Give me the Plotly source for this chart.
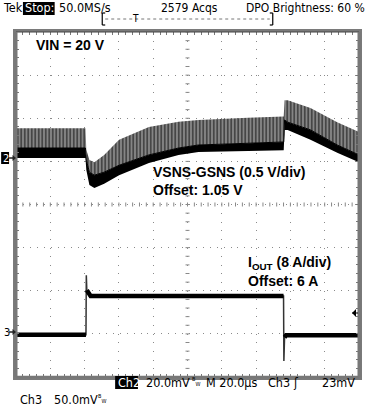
import plotly.graph_objects as go

# ---------------- data ----------------
# time in microseconds (20 us/div, 10 divisions), vertical in divisions (8 divisions)
ch2_t    = [0, 40.5, 41.0, 42.8, 45.7, 51.4, 60.1, 77.5, 94.8, 106.4, 135.3, 156.1, 156.6, 158.4, 171.7, 187.3, 200]
ch2_peak = [1.77, 1.77, 1.27, 1.03, 0.98, 1.15, 1.50, 1.80, 1.92, 1.96, 2.01, 2.04, 2.42, 2.42, 2.24, 1.91, 1.68]
ch2_top  = [1.31, 1.31, 1.03, 0.75, 0.68, 0.75, 0.91, 1.15, 1.31, 1.38, 1.42, 1.45, 1.96, 1.91, 1.73, 1.38, 1.15]
ch2_bot  = [1.08, 1.08, 0.80, 0.45, 0.38, 0.48, 0.68, 0.96, 1.15, 1.22, 1.24, 1.26, 1.73, 1.73, 1.50, 1.20, 0.98]

ch3_t = [0, 40.8, 41.0, 41.3, 42.0, 43.5, 156.0, 156.2, 156.6, 157.5, 200]
ch3_v = [-3.02, -3.02, -1.64, -1.99, -2.05, -2.12, -2.12, -3.63, -3.08, -3.03, -3.03]

x_range = [0, 200]
y_range = [-4, 4]
x_div = 20
y_div = 1

top_left = "Tek"
stop_text = "Stop:"
rate_text = "50.0MS/s"
acq_text = "2579 Acqs"
bright_text = "DPO Brightness: 60 %"
ch2_scale = "20.0mV"
time_scale = "M 20.0\u00b5s"
trig_src = "Ch3"
trig_level = "23mV"
ch3_scale = "50.0mV"

# ---------------- layout helpers ----------------
W, H = 371, 415
L, R, T, B = 16, 362, 32, 377


def px(x):
    return (x - L) / (R - L)


def py(y):
    return (B - y) / (B - T)


fig = go.Figure()

# Channel 2: noise core band and switching spikes
fig.add_trace(go.Scatter(x=ch2_t, y=ch2_bot, mode="lines", line=dict(width=0, color="black"),
                         hoverinfo="skip", showlegend=False))
fig.add_trace(go.Scatter(x=ch2_t, y=ch2_top, mode="lines", line=dict(width=1, color="black"),
                         fill="tonexty", fillcolor="black", hoverinfo="skip", showlegend=False))
fig.add_trace(go.Scatter(x=ch2_t, y=ch2_peak, mode="lines", line=dict(width=0, color="#444"),
                         fill="tonexty", fillcolor="#808080",
                         fillpattern=dict(shape="|", fgcolor="black", bgcolor="#8c8c8c",
                                          size=3.5, solidity=0.55),
                         hoverinfo="skip", showlegend=False))

# Channel 3: thin full trace, thick on the flat parts
fig.add_trace(go.Scatter(x=ch3_t, y=ch3_v, mode="lines", line=dict(width=1.5, color="#333"),
                         hoverinfo="skip", showlegend=False))
xt, yt = [], []
for i in range(len(ch3_t) - 1):
    dt = ch3_t[i + 1] - ch3_t[i]
    dv = abs(ch3_v[i + 1] - ch3_v[i])
    if dv / dt > 0.3:
        xt.append(None); yt.append(None)
        continue
    xt += [ch3_t[i], ch3_t[i + 1]]
    yt += [ch3_v[i], ch3_v[i + 1]]
fig.add_trace(go.Scatter(x=xt, y=yt, mode="lines", line=dict(width=4.5, color="black"),
                         hoverinfo="skip", showlegend=False))

shapes = []
# centre crosshair minor ticks
xpp = (R - L) / (x_range[1] - x_range[0])
ypp = (B - T) / (y_range[1] - y_range[0])
cx = (x_range[0] + x_range[1]) / 2
for k in range(-20, 21):
    yv = k * y_div / 5
    shapes.append(dict(type="line", x0=cx - 2 / xpp, x1=cx + 2 / xpp, y0=yv, y1=yv,
                       xref="x", yref="y", line=dict(color="#888", width=1), layer="below"))
for k in range(0, 51):
    xv = k * x_div / 5
    shapes.append(dict(type="line", x0=xv, x1=xv, y0=-2 / ypp, y1=2 / ypp,
                       xref="x", yref="y", line=dict(color="#888", width=1), layer="below"))

# graticule frame
shapes.append(dict(type="line", xref="paper", yref="paper", x0=0, x1=1, y0=1, y1=1,
                   line=dict(color="#444", width=1.2)))
shapes.append(dict(type="line", xref="paper", yref="paper", x0=0, x1=1, y0=0, y1=0,
                   line=dict(color="#777", width=2.5)))
shapes.append(dict(type="line", xref="paper", yref="paper", x0=0, x1=0, y0=0, y1=1,
                   line=dict(color="#777", width=3)))
shapes.append(dict(type="line", xref="paper", yref="paper", x0=1, x1=1, y0=0, y1=1,
                   line=dict(color="#777", width=3)))

# record bracket at top
for (a, b) in [(103, 106), (275, 272)]:
    shapes.append(dict(type="line", xref="paper", yref="paper", x0=px(a), x1=px(a), y0=py(13), y1=py(25),
                       line=dict(color="black", width=1.2)))
    for yy in (13, 25):
        shapes.append(dict(type="line", xref="paper", yref="paper", x0=px(a), x1=px(b), y0=py(yy), y1=py(yy),
                           line=dict(color="black", width=1.2)))
shapes.append(dict(type="line", xref="paper", yref="paper", x0=px(106), x1=px(272), y0=py(19), y1=py(19),
                   line=dict(color="#777", width=1, dash="dot")))

# channel 2 marker box
shapes.append(dict(type="rect", xref="paper", yref="paper", x0=px(1), x1=px(9), y0=py(152), y1=py(164),
                   fillcolor="black", line=dict(width=0)))
# channel ground arrows
for yy in (158, 332):
    shapes.append(dict(type="line", xref="paper", yref="paper", x0=px(9), x1=px(14), y0=py(yy), y1=py(yy),
                       line=dict(color="#222", width=1.5)))
    shapes.append(dict(type="path", xref="paper", yref="paper",
                       path=f"M {px(16)},{py(yy)} L {px(12.5)},{py(yy - 3)} L {px(12.5)},{py(yy + 3)} Z",
                       fillcolor="#222", line=dict(width=0)))
# trigger level arrow on right
shapes.append(dict(type="path", xref="paper", yref="paper",
                   path=f"M {px(355)},{py(313)} L {px(359)},{py(309)} L {px(359)},{py(317)} Z",
                   fillcolor="black", line=dict(width=0)))
shapes.append(dict(type="line", xref="paper", yref="paper", x0=px(355), x1=px(361), y0=py(313), y1=py(313),
                   line=dict(color="black", width=1)))

# inverted label boxes
shapes.append(dict(type="rect", xref="paper", yref="paper", x0=px(23), x1=px(55), y0=py(2), y1=py(15),
                   fillcolor="black", line=dict(width=0)))
shapes.append(dict(type="rect", xref="paper", yref="paper", x0=px(116), x1=px(139), y0=py(376), y1=py(389),
                   fillcolor="black", line=dict(width=0)))

UI = "DejaVu Sans Condensed, DejaVu Sans, sans-serif"
AR = "Liberation Sans, Arial, sans-serif"

ann = []


def txt(x, y, s, size=12, color="black", anchor="left", family=UI):
    ann.append(dict(x=px(x), y=py(y), xref="paper", yref="paper", text=s, showarrow=False,
                    xanchor=anchor, yanchor="middle", font=dict(family=family, size=size, color=color)))


txt(1, 8, top_left, 12.5)
txt(23, 8, stop_text, 12.5, color="white")
txt(57, 8, rate_text, 12.5)
txt(160, 8, acq_text, 12)
txt(370, 8, bright_text, 12, anchor="right")
txt(137, 18, "T", 10, anchor="center")

txt(117, 382, "Ch2", 12.5, color="white")
txt(145, 382, ch2_scale, 12.5)
txt(192, 381, "<sup>B</sup><sub>W</sub>", 8)
txt(206, 382, time_scale, 12.5)
txt(268, 382, trig_src, 12.5)
txt(293, 382, "\u0283", 12.5)
txt(360, 382, trig_level, 12.5, anchor="right")
txt(18, 399, "Ch3", 12.5)
txt(52, 399, ch3_scale, 12.5)
txt(97, 398, "<sup>B</sup><sub>W</sub>", 8)

txt(1, 158, "2", 11, color="white")
txt(2, 332, "3", 11)

txt(34, 45, "<b>VIN = 20 V</b>", 14, family=AR)
txt(152, 172, "<b>VSNS-GSNS (0.5 V/div)</b>", 14, family=AR)
txt(152, 190, "<b>Offset: 1.05 V</b>", 14, family=AR)
txt(248, 263, "<b>I<sub>OUT</sub> (8 A/div)</b>", 14, family=AR)
txt(248, 281, "<b>Offset: 6 A</b>", 14, family=AR)

axis_common = dict(showticklabels=False, showline=True, linecolor="#7a7a7a", linewidth=2.5,
                   mirror="ticks", ticks="inside", ticklen=3, tickcolor="#777", zeroline=False,
                   showgrid=True, gridcolor="#8a8a8a", gridwidth=1, fixedrange=True)

fig.update_xaxes(range=x_range, dtick=x_div, tick0=0, griddash="1px,7.62px",
                 minor=dict(ticks="inside", dtick=x_div / 5, ticklen=3, tickcolor="#777", showgrid=False),
                 **axis_common)
fig.update_yaxes(range=y_range, dtick=y_div, tick0=0, griddash="1px,5.92px",
                 minor=dict(ticks="inside", dtick=y_div / 5, ticklen=3, tickcolor="#777", showgrid=False),
                 **axis_common)

fig.update_layout(width=W, height=H, margin=dict(l=L, r=W - R, t=T, b=H - B),
                  paper_bgcolor="white", plot_bgcolor="white", shapes=shapes, annotations=ann,
                  showlegend=False)

fig.write_html("out.html", config={"displayModeBar": False},
               post_script="document.body.style.margin='0';document.body.style.padding='0';")
